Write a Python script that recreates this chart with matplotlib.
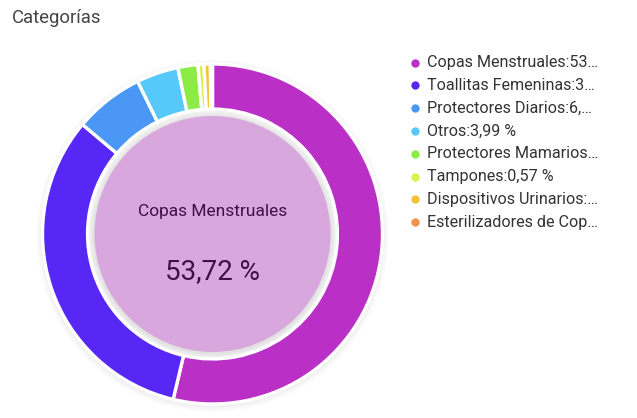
import matplotlib
matplotlib.use("Agg")
import matplotlib.pyplot as plt
from matplotlib.patches import Circle

plt.rcParams['font.family'] = ['Roboto', 'DejaVu Sans']

categories = ["Copas Menstruales", "Toallitas Femeninas", "Protectores Diarios", "Otros",
              "Protectores Mamarios", "Tampones", "Dispositivos Urinarios",
              "Esterilizadores de Copas"]
values = [53.72, 32.42, 6.60, 3.99, 1.90, 0.57, 0.60, 0.20]
colors = ["#BA30C6", "#5627F5", "#4A97F5", "#56C8FA", "#8DEB45", "#DCF04C", "#F7C23A", "#F2914A"]
legend_labels = ["Copas Menstruales:53…", "Toallitas Femeninas:3…", "Protectores Diarios:6,…",
                 "Otros:3,99 %", "Protectores Mamarios…", "Tampones:0,57 %",
                 "Dispositivos Urinarios:…", "Esterilizadores de Cop…"]
center_label = "Copas Menstruales"
center_value = "53,72 %"

W, H = 637, 418
fig = plt.figure(figsize=(W / 100, H / 100), dpi=100)
fig.patch.set_facecolor("white")

cx, cy, R = 212.5, 234, 170
m = 1.06
ax = fig.add_axes([(cx - R * m) / W, (H - cy - R * m) / H, 2 * R * m / W, 2 * R * m / H])

ax.pie(values, colors=colors, startangle=90, counterclock=False, radius=1.0,
       wedgeprops=dict(width=0.265, edgecolor="white", linewidth=2.4))
ax.set_xlim(-m, m)
ax.set_ylim(-m, m)
ax.set_aspect("equal")
ax.axis("off")

# soft shadow behind ring
for i, a in enumerate([0.015, 0.02, 0.025]):
    ax.add_patch(Circle((0, -0.01), 1.0 + 0.012 * (3 - i), color="black", alpha=a, lw=0, zorder=0))

# inner disk with subtle shadow
for i, a in enumerate([0.015, 0.02, 0.025]):
    ax.add_patch(Circle((0, -0.006), 0.694 + 0.008 * (3 - i), color="black", alpha=a, lw=0, zorder=3))
ax.add_patch(Circle((0, 0), 0.694, color="#D8A7DD", lw=0, zorder=4))
ax.text(0, 0.13, center_label, ha="center", va="center", fontsize=12.5, color="#3E1046", zorder=5)
ax.text(0, -0.22, center_value, ha="center", va="center", fontsize=20, color="#3E1046", zorder=5)

# title
fig.text(12 / W, 1 - 18 / H, "Categorías", ha="left", va="center", fontsize=13.3, color="#444444")

# legend
lax = fig.add_axes([0, 0, 1, 1], facecolor="none")
lax.set_xlim(0, W)
lax.set_ylim(H, 0)
lax.axis("off")
y0, dy = 62.5, 22.8
for i, (lab, c) in enumerate(zip(legend_labels, colors)):
    y = y0 + i * dy
    lax.scatter([415], [y], s=36, color=c, lw=0)
    lax.text(427, y, lab, ha="left", va="center", fontsize=11.6, color="#333333")

fig.savefig("out.png", dpi=100)
